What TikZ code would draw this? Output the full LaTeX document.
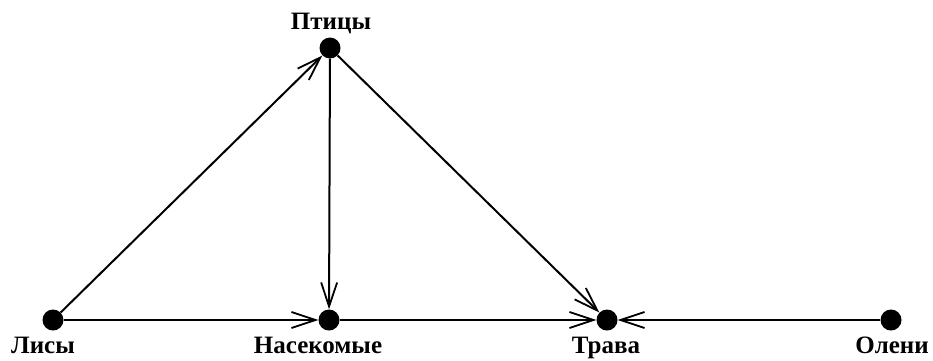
\documentclass[tikz,border=0pt]{standalone}
\usepackage{fontspec}
\setmainfont{Liberation Serif}
\usetikzlibrary{arrows.meta}
\begin{document}
\begin{tikzpicture}[x=1pt,y=-1pt,
  vert/.style={circle,fill=black,inner sep=0pt,minimum size=21pt},
  lbl/.style={font=\fontsize{25}{28}\selectfont\bfseries,inner sep=0pt,anchor=base},
  edge/.style={line width=2pt,-{Straight Barb[length=24pt,width=16pt,line width=1.8pt]}}]
\useasboundingbox (0,0) rectangle (933,360);
\node[vert] (p) at (330,48) {};
\node[vert] (l) at (53,320) {};
\node[vert] (n) at (329,320) {};
\node[vert] (t) at (607,320) {};
\node[vert] (o) at (891,320) {};
\node[lbl] (pl) at (331,29) {Птицы};
\node[lbl] (ll) at (43,353) {Лисы};
\node[lbl] (nl) at (318,353) {Насекомые};
\node[lbl] (tl) at (606,353) {Трава};
\node[lbl] (ol) at (892,353) {Олени};
\draw[edge] (l) -- (p);
\draw[edge] (l) -- (n);
\draw[edge] (p) -- (n);
\draw[edge] (p) -- (t);
\draw[edge] (n) -- (t);
\draw[edge] (o) -- (t);
\end{tikzpicture}
\end{document}
